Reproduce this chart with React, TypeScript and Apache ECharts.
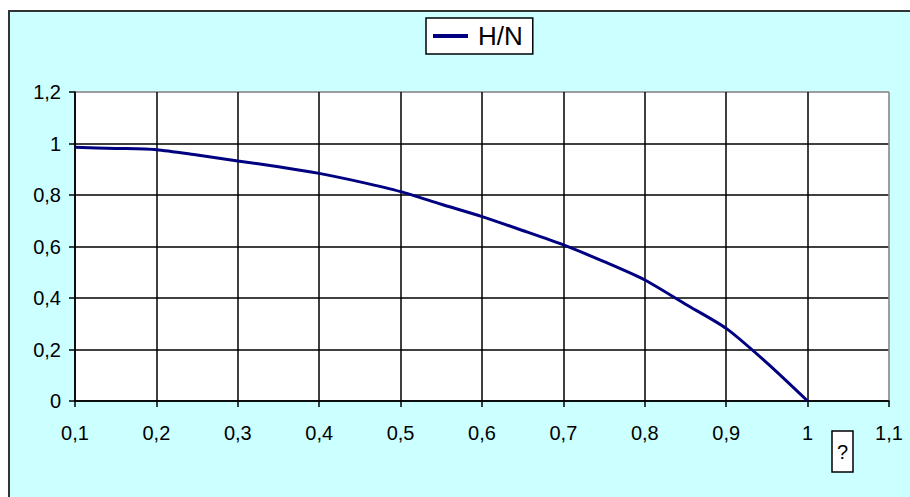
import React, { useEffect, useRef } from "react";
import * as echarts from "echarts";

const xValues = [0.1, 0.15, 0.2, 0.25, 0.3, 0.35, 0.4, 0.45, 0.5, 0.55, 0.6, 0.65, 0.7, 0.75, 0.8, 0.85, 0.9, 0.95, 1.0];
const hnValues = [0.985, 0.981, 0.976, 0.955, 0.932, 0.91, 0.884, 0.851, 0.813, 0.764, 0.716, 0.662, 0.606, 0.541, 0.47, 0.376, 0.282, 0.148, 0.0];
const xTickLabels = ["0,1", "0,2", "0,3", "0,4", "0,5", "0,6", "0,7", "0,8", "0,9", "1", "1,1"];
const yTickLabels = ["0", "0,2", "0,4", "0,6", "0,8", "1", "1,2"];
const seriesName = "H/N";

export default function App() {
  const ref = useRef<HTMLDivElement>(null);
  useEffect(() => {
    document.body.style.margin = "0";
    const chart = echarts.init(ref.current!, null, { renderer: "svg" });
    const font = "Arial, 'Liberation Sans', sans-serif";
    const xSplitColors = xTickLabels.map((_, i) => (i === xTickLabels.length - 1 ? "#909090" : "#000"));
    const ySplitColors = yTickLabels.map((_, i) => (i === yTickLabels.length - 1 ? "#909090" : "#000"));
    chart.setOption({
      animation: false,
      backgroundColor: "transparent",
      grid: {
        left: 75,
        top: 92,
        right: 21,
        bottom: 96,
        show: true,
        backgroundColor: "#ffffff",
        borderColor: "#909090",
        borderWidth: 1,
      },
      legend: {
        data: [seriesName],
        left: 426,
        top: 18,
        orient: "horizontal",
        backgroundColor: "#ffffff",
        borderColor: "#000",
        borderWidth: 1.5,
        borderRadius: 0,
        padding: [5, 10, 5, 7],
        icon: "rect",
        itemWidth: 35,
        itemHeight: 4,
        textStyle: { fontFamily: font, fontSize: 26, color: "#000", padding: [0, 0, 0, 5] },
      },
      xAxis: {
        type: "value",
        min: 0.1,
        max: 1.1,
        interval: 0.1,
        axisLine: { show: true, onZero: false, lineStyle: { color: "#000", width: 1.5 } },
        axisTick: { show: true, inside: false, length: 6, lineStyle: { color: "#000", width: 1.5 } },
        axisLabel: {
          margin: 22,
          fontFamily: font,
          fontSize: 20,
          color: "#000",
          formatter: (v: number) => xTickLabels[Math.round((v - 0.1) / 0.1)] ?? "",
        },
        splitLine: { show: true, lineStyle: { color: xSplitColors, width: 1.5 } },
      },
      yAxis: {
        type: "value",
        min: 0,
        max: 1.2,
        interval: 0.2,
        axisLine: { show: true, lineStyle: { color: "#000", width: 1.5 } },
        axisTick: { show: true, inside: false, length: 6, lineStyle: { color: "#000", width: 1.5 } },
        axisLabel: {
          margin: 14,
          fontFamily: font,
          fontSize: 20,
          color: "#000",
          formatter: (v: number) => yTickLabels[Math.round(v / 0.2)] ?? "",
        },
        splitLine: { show: true, lineStyle: { color: ySplitColors, width: 1.5 } },
      },
      series: [
        {
          name: seriesName,
          type: "line",
          data: xValues.map((x, i) => [x, hnValues[i]]),
          showSymbol: false,
          symbol: "none",
          smooth: 0.25,
          lineStyle: { color: "#000080", width: 3 },
          itemStyle: { color: "#000080" },
          z: 5,
        },
      ],
      graphic: [
        {
          type: "rect",
          shape: { x: 832, y: 431, width: 21, height: 41 },
          style: { fill: "#ffffff", stroke: "#000", lineWidth: 1.5 },
        },
        {
          type: "text",
          x: 842.5,
          y: 451.5,
          style: {
            text: "?",
            fontFamily: font,
            fontSize: 20,
            fill: "#000",
            align: "center",
            verticalAlign: "middle",
          },
        },
      ],
    });
    return () => chart.dispose();
  }, []);
  return (
    <div style={{ position: "relative", width: 910, height: 497, background: "#ffffff", overflow: "hidden" }}>
      <div
        style={{
          position: "absolute",
          left: 8,
          top: 10,
          right: -4,
          bottom: -4,
          background: "#ccffff",
          borderLeft: "2px solid #333",
          borderTop: "2px solid #333",
        }}
      />
      <div ref={ref} style={{ position: "absolute", left: 0, top: 0, width: 910, height: 497 }} />
    </div>
  );
}
